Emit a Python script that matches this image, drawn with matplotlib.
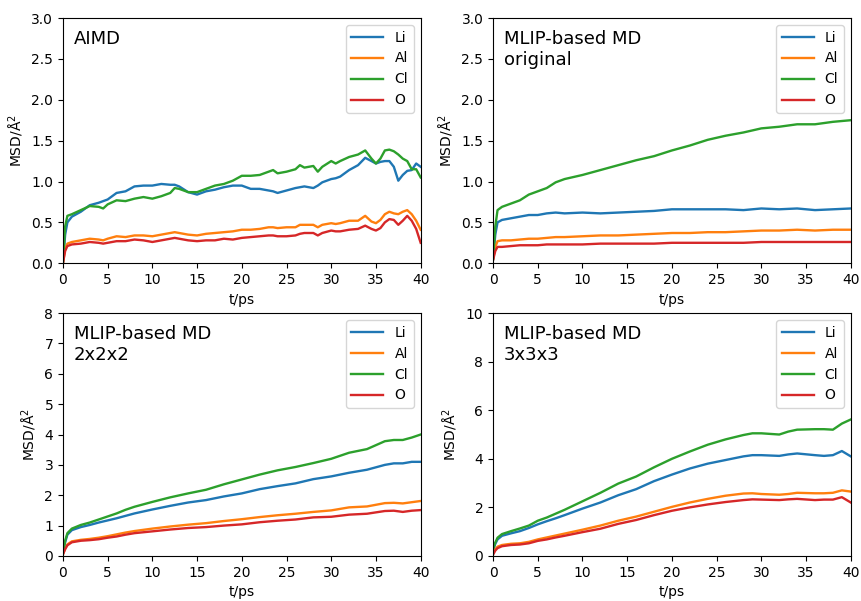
import matplotlib
matplotlib.use("Agg")
import matplotlib.pyplot as plt

# time grids (ps) for each run
t_aimd = [0, 0.25, 0.5, 1, 2, 3, 4, 4.5, 5, 6, 7, 8, 9, 10, 11, 12, 12.5, 13, 14,
          15, 16, 17, 18, 19, 20, 21, 22, 23, 23.5, 24, 25, 26, 26.5, 27, 28, 28.5,
          29, 30, 30.5, 31, 32, 33, 33.8, 34.5, 35, 35.5, 36, 36.5, 37, 37.5, 38,
          38.5, 39, 39.5, 40]
t_orig = [0, 0.25, 0.5, 1, 2, 3, 4, 5, 6, 7, 8, 10, 12, 14, 16, 18, 20, 22, 24,
          26, 28, 30, 32, 34, 36, 38, 40]
t_222 = [0, 0.25, 0.5, 1, 2, 3, 4, 5, 6, 7, 8, 10, 12, 14, 16, 18, 20, 22, 24,
         26, 28, 30, 32, 34, 36, 37, 38, 39, 40]
t_333 = [0, 0.25, 0.5, 1, 2, 3, 4, 5, 6, 7, 8, 10, 12, 14, 16, 18, 20, 22, 24,
         26, 28, 29, 30, 32, 33, 34, 36, 37, 38, 39, 40]

# MSD (A^2) -- AIMD
aimd_li = [0, 0.35, 0.50, 0.57, 0.63, 0.71, 0.74, 0.76, 0.78, 0.86, 0.88, 0.94, 0.95,
           0.95, 0.97, 0.96, 0.96, 0.94, 0.87, 0.84, 0.88, 0.90, 0.93, 0.95, 0.95,
           0.91, 0.91, 0.89, 0.88, 0.86, 0.89, 0.92, 0.93, 0.94, 0.92, 0.95, 0.99,
           1.03, 1.04, 1.06, 1.14, 1.20, 1.29, 1.25, 1.22, 1.24, 1.25, 1.25, 1.18,
           1.01, 1.08, 1.13, 1.14, 1.22, 1.18]
aimd_al = [0, 0.18, 0.24, 0.26, 0.28, 0.30, 0.29, 0.28, 0.30, 0.33, 0.32, 0.34, 0.34,
           0.33, 0.35, 0.37, 0.38, 0.37, 0.35, 0.34, 0.36, 0.37, 0.38, 0.39, 0.41,
           0.41, 0.42, 0.44, 0.44, 0.43, 0.44, 0.44, 0.47, 0.47, 0.47, 0.44, 0.47,
           0.49, 0.48, 0.49, 0.52, 0.52, 0.58, 0.51, 0.49, 0.53, 0.60, 0.63, 0.61,
           0.60, 0.63, 0.65, 0.60, 0.52, 0.41]
aimd_cl = [0, 0.45, 0.58, 0.60, 0.65, 0.70, 0.69, 0.67, 0.72, 0.77, 0.76, 0.79, 0.81,
           0.79, 0.82, 0.86, 0.92, 0.91, 0.87, 0.87, 0.91, 0.95, 0.97, 1.01, 1.07,
           1.07, 1.08, 1.12, 1.14, 1.10, 1.12, 1.15, 1.20, 1.17, 1.19, 1.12, 1.18,
           1.25, 1.22, 1.25, 1.30, 1.33, 1.38, 1.28, 1.22, 1.28, 1.38, 1.39, 1.37,
           1.33, 1.28, 1.25, 1.15, 1.15, 1.05]
aimd_o = [0, 0.15, 0.21, 0.23, 0.24, 0.26, 0.25, 0.24, 0.25, 0.27, 0.27, 0.29, 0.28,
          0.26, 0.28, 0.30, 0.31, 0.30, 0.28, 0.27, 0.28, 0.28, 0.30, 0.29, 0.31,
          0.32, 0.33, 0.34, 0.34, 0.33, 0.33, 0.34, 0.36, 0.37, 0.37, 0.34, 0.37,
          0.40, 0.39, 0.39, 0.41, 0.42, 0.46, 0.42, 0.40, 0.43, 0.50, 0.54, 0.53,
          0.47, 0.52, 0.58, 0.52, 0.42, 0.25]

# MLIP, original cell
orig_li = [0.05, 0.35, 0.50, 0.53, 0.55, 0.57, 0.59, 0.59, 0.61, 0.62, 0.61, 0.62,
           0.61, 0.62, 0.63, 0.64, 0.66, 0.66, 0.66, 0.66, 0.65, 0.67, 0.66, 0.67,
           0.65, 0.66, 0.67]
orig_al = [0.05, 0.20, 0.27, 0.28, 0.28, 0.29, 0.30, 0.30, 0.31, 0.32, 0.32, 0.33,
           0.34, 0.34, 0.35, 0.36, 0.37, 0.37, 0.38, 0.38, 0.39, 0.40, 0.40, 0.41,
           0.40, 0.41, 0.41]
orig_cl = [0.05, 0.45, 0.65, 0.69, 0.73, 0.77, 0.84, 0.88, 0.92, 0.99, 1.03, 1.08,
           1.14, 1.20, 1.26, 1.31, 1.38, 1.44, 1.51, 1.56, 1.60, 1.65, 1.67, 1.70,
           1.70, 1.73, 1.75]
orig_o = [0.04, 0.15, 0.20, 0.20, 0.21, 0.22, 0.22, 0.22, 0.23, 0.23, 0.23, 0.23,
          0.24, 0.24, 0.24, 0.24, 0.25, 0.25, 0.25, 0.25, 0.25, 0.26, 0.26, 0.26,
          0.26, 0.26, 0.26]

# MLIP, 2x2x2 supercell
s222_li = [0.1, 0.45, 0.70, 0.85, 0.95, 1.02, 1.10, 1.17, 1.24, 1.32, 1.40, 1.53,
           1.65, 1.76, 1.84, 1.96, 2.06, 2.20, 2.30, 2.39, 2.53, 2.62, 2.74, 2.84,
           3.00, 3.05, 3.05, 3.10, 3.10]
s222_al = [0.05, 0.25, 0.38, 0.48, 0.53, 0.56, 0.60, 0.65, 0.71, 0.77, 0.82, 0.90,
           0.97, 1.03, 1.08, 1.15, 1.21, 1.28, 1.34, 1.39, 1.45, 1.50, 1.60, 1.63,
           1.74, 1.75, 1.73, 1.77, 1.81]
s222_cl = [0.1, 0.50, 0.75, 0.90, 1.02, 1.10, 1.20, 1.30, 1.40, 1.52, 1.62, 1.78,
           1.93, 2.06, 2.18, 2.36, 2.52, 2.68, 2.82, 2.93, 3.06, 3.20, 3.40, 3.52,
           3.78, 3.82, 3.82, 3.90, 4.00]
s222_o = [0.05, 0.22, 0.35, 0.45, 0.50, 0.52, 0.55, 0.60, 0.64, 0.70, 0.75, 0.81,
          0.87, 0.92, 0.95, 1.00, 1.04, 1.11, 1.16, 1.20, 1.27, 1.29, 1.36, 1.39,
          1.48, 1.49, 1.45, 1.49, 1.51]

# MLIP, 3x3x3 supercell
s333_li = [0.2, 0.50, 0.68, 0.83, 0.93, 1.02, 1.15, 1.30, 1.43, 1.55, 1.68, 1.95,
           2.20, 2.50, 2.75, 3.08, 3.35, 3.60, 3.80, 3.95, 4.10, 4.15, 4.15, 4.12,
           4.18, 4.22, 4.15, 4.12, 4.15, 4.32, 4.10]
s333_al = [0.1, 0.28, 0.38, 0.45, 0.50, 0.52, 0.58, 0.68, 0.76, 0.84, 0.92, 1.08,
           1.25, 1.45, 1.62, 1.82, 2.02, 2.20, 2.35, 2.48, 2.57, 2.58, 2.55, 2.52,
           2.55, 2.60, 2.58, 2.58, 2.60, 2.70, 2.65]
s333_cl = [0.3, 0.55, 0.75, 0.90, 1.02, 1.13, 1.25, 1.45, 1.58, 1.74, 1.90, 2.25,
           2.60, 2.98, 3.27, 3.65, 4.00, 4.30, 4.58, 4.80, 4.98, 5.05, 5.05, 5.00,
           5.12, 5.20, 5.22, 5.22, 5.20, 5.45, 5.62]
s333_o = [0.05, 0.22, 0.32, 0.40, 0.45, 0.47, 0.52, 0.62, 0.68, 0.76, 0.83, 0.98,
          1.12, 1.32, 1.48, 1.68, 1.86, 2.00, 2.12, 2.22, 2.30, 2.33, 2.32, 2.30,
          2.33, 2.35, 2.30, 2.32, 2.32, 2.42, 2.20]

species = ['Li', 'Al', 'Cl', 'O']
titles = ['AIMD', 'MLIP-based MD\noriginal', 'MLIP-based MD\n2x2x2', 'MLIP-based MD\n3x3x3']
ylims = [3, 3, 8, 10]

runs = [
    (t_aimd, [aimd_li, aimd_al, aimd_cl, aimd_o]),
    (t_orig, [orig_li, orig_al, orig_cl, orig_o]),
    (t_222, [s222_li, s222_al, s222_cl, s222_o]),
    (t_333, [s333_li, s333_al, s333_cl, s333_o]),
]

fig = plt.figure(figsize=(8.62, 6.01), dpi=100)
# axes boxes: left, bottom, width, height
boxes = [
    [0.073, 0.562, 0.415, 0.408],
    [0.572, 0.562, 0.415, 0.408],
    [0.073, 0.075, 0.415, 0.404],
    [0.572, 0.075, 0.415, 0.404],
]

for box, (t, series), title, ymax in zip(boxes, runs, titles, ylims):
    ax = fig.add_axes(box)
    for name, msd in zip(species, series):
        ax.plot(t, msd, label=name, lw=1.7)
    ax.set_xlim(0, 40)
    ax.set_ylim(0, ymax)
    ax.set_xlabel('t/ps', fontsize=10)
    ax.set_ylabel('MSD/Å$^2$', fontsize=10)
    ax.tick_params(labelsize=10)
    ax.text(0.03, 0.95, title, transform=ax.transAxes, va='top', ha='left',
            fontsize=13)
    ax.legend(loc='upper right', fontsize=10, handlelength=2.3)

fig.savefig('out.png', dpi=100)
